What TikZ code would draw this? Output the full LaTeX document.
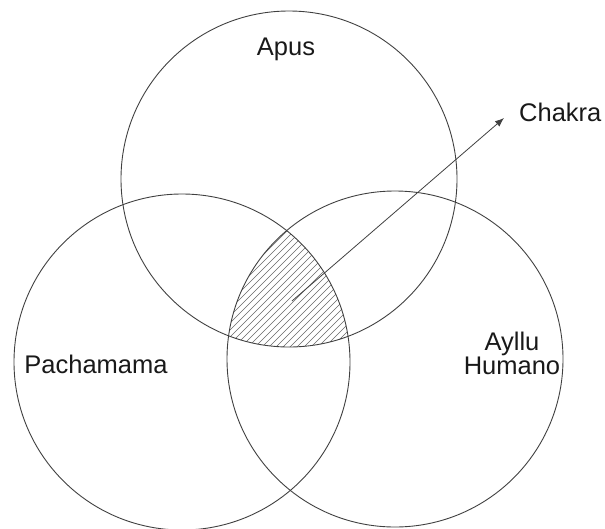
\documentclass[tikz,border=0pt]{standalone}
\usepackage{fontspec}
\setmainfont{Liberation Sans}
\usetikzlibrary{arrows.meta}
\begin{document}
\begin{tikzpicture}[x=1pt,y=-1pt,
  ring/.style={draw=black!75, line width=0.9pt},
  hatch/.style={draw=black!60, line width=0.6pt},
  lbl/.style={font=\fontsize{25.5}{24}\selectfont, text=black!90, inner sep=0pt},
  ptr/.style={draw=black!75, line width=0.8pt, -{Latex[length=9pt,width=7pt]}}]
\useasboundingbox (0,0) rectangle (605,528);
\coordinate (cA) at (289,179);
\coordinate (cP) at (182,362);
\coordinate (cH) at (395,359);
\begin{scope}
  \clip (cA) circle[radius=168pt];
  \clip (cP) circle[radius=168pt];
  \clip (cH) circle[radius=168pt];
  \foreach \c in {420,427,...,714} \draw[hatch] ({\c-400},400) -- ({\c-150},150);
\end{scope}
\draw[ring] (cA) circle[radius=168pt];
\draw[ring] (cP) circle[radius=168pt];
\draw[ring] (cH) circle[radius=168pt];
\node[lbl, anchor=base] (apus) at (286,55) {Apus};
\node[lbl, anchor=base] (pacha) at (96,373) {Pachamama};
\node[lbl, anchor=base west] (chakra) at (519,121) {Chakra};
\node[lbl, align=center, anchor=base] (ayllu) at (512,374) {Ayllu\\Humano};
\coordinate (src) at (292,301);
\coordinate (tip) at (504,118);
\draw[ptr] (src) -- (tip);
\end{tikzpicture}
\end{document}
